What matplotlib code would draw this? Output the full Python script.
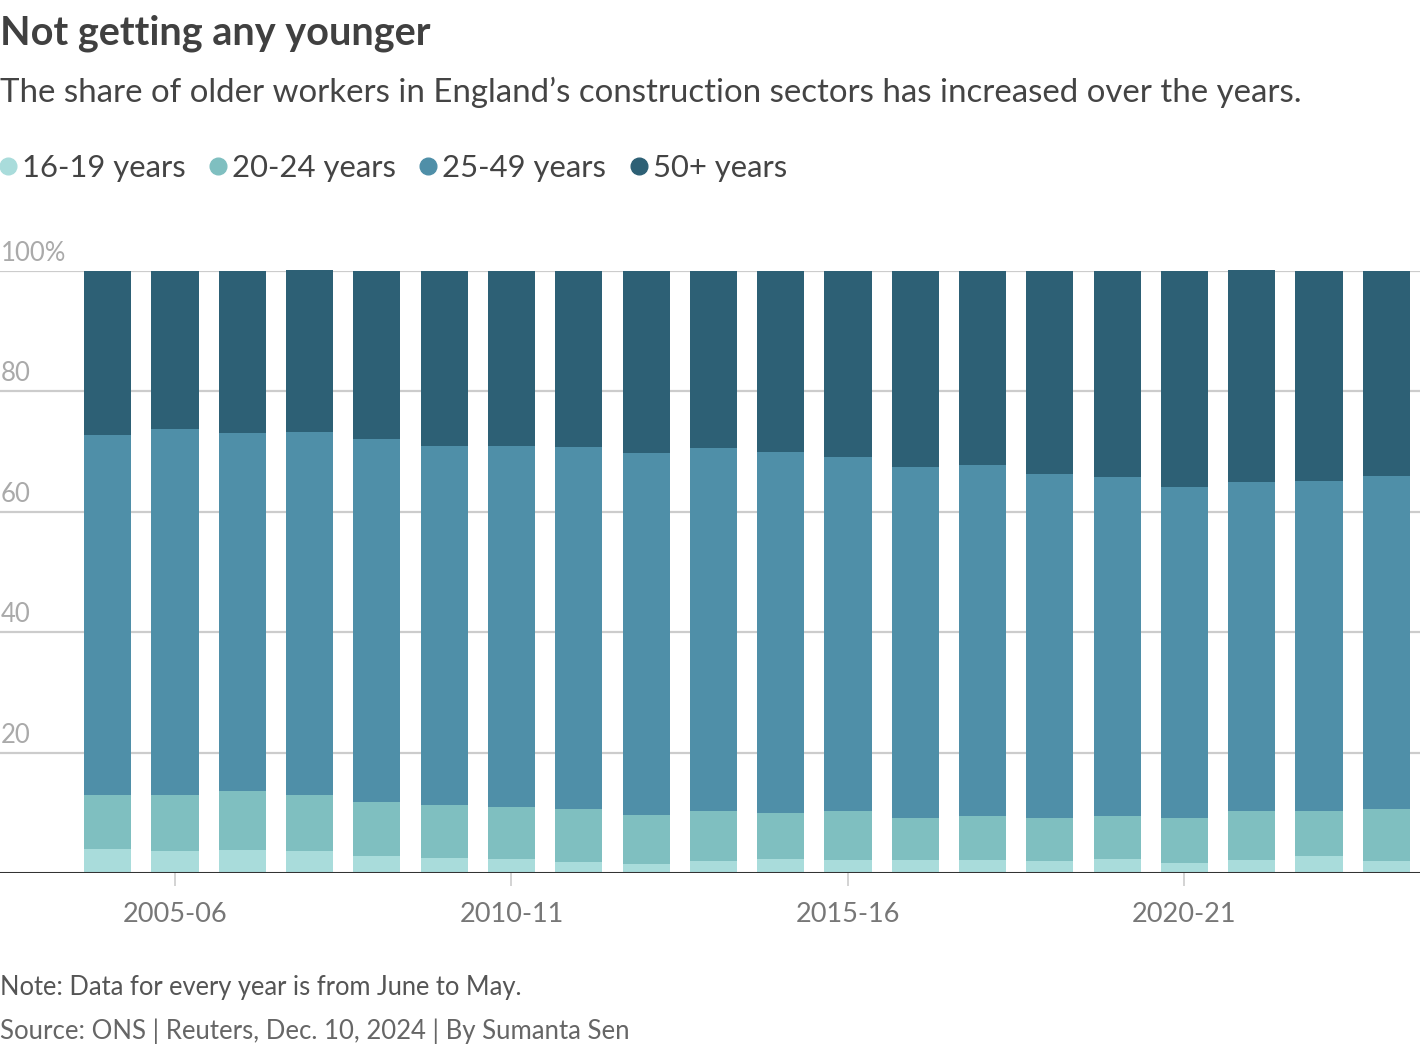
import matplotlib

matplotlib.use("Agg")
import matplotlib.pyplot as plt
from matplotlib.lines import Line2D
import numpy as np

plt.rcParams["font.family"] = ["Lato", "DejaVu Sans"]

# Years run June to May, 2004-05 .. 2023-24
years = [f"{y}-{str(y + 1)[-2:]}" for y in range(2004, 2024)]
age_16_19 = [4.0, 3.7, 3.9, 3.7, 2.9, 2.5, 2.4, 1.9, 1.5, 2.0,
             2.4, 2.2, 2.2, 2.2, 2.0, 2.4, 1.7, 2.2, 2.9, 2.0]
age_20_24 = [9.0, 9.3, 9.8, 9.3, 8.9, 8.8, 8.6, 8.8, 8.2, 8.3,
             7.6, 8.1, 7.0, 7.3, 7.2, 7.1, 7.5, 8.1, 7.4, 8.7]
age_25_49 = [59.8, 60.8, 59.4, 60.3, 60.3, 59.6, 59.9, 60.1, 60.1, 60.3,
             59.9, 58.8, 58.2, 58.3, 57.1, 56.3, 54.9, 54.7, 54.8, 55.2]
age_50_plus = [27.2, 26.2, 26.9, 26.9, 27.9, 29.1, 29.1, 29.2, 30.2, 29.4,
               30.1, 30.9, 32.6, 32.2, 33.7, 34.2, 35.9, 35.2, 34.9, 34.1]
series_names = ["16-19 years", "20-24 years", "25-49 years", "50+ years"]
tick_labels = ["2005-06", "2010-11", "2015-16", "2020-21"]
y_ticks = [20, 40, 60, 80, 100]

colors = ["#a9dcdb", "#7fbfc0", "#4f8fa8", "#2d6075"]

W, H = 1420, 1046
fig = plt.figure(figsize=(W / 100, H / 100), dpi=100)
ax = fig.add_axes([0, 1 - 873 / H, 1, (873 - 271) / H])

x = np.arange(len(years))
bottom = np.zeros(len(years))
for vals, c in zip([age_16_19, age_20_24, age_25_49, age_50_plus], colors):
    ax.bar(x, vals, bottom=bottom, width=0.7, color=c, zorder=3, clip_on=False)
    bottom += np.array(vals)

ax.set_xlim(-1.6, 19.5)
ax.set_ylim(0, 100)

for v in y_ticks:
    ax.axhline(v, color="#cccccc", lw=1.6, zorder=1)
    lab = "100%" if v == 100 else str(v)
    ax.annotate(lab, xy=(0, v), xycoords=("axes fraction", "data"),
                xytext=(1, 5), textcoords="offset pixels", ha="left", va="bottom",
                fontsize=18.5, color="#aaaaaa")
ax.axhline(0, color="#333333", lw=2.2, zorder=4)

for s in ax.spines.values():
    s.set_visible(False)
ax.set_yticks([])
tick_pos = [years.index(t) for t in tick_labels]
ax.set_xticks(tick_pos)
ax.set_xticklabels(tick_labels, fontsize=19.5, color="#777777")
ax.tick_params(axis="x", length=9, width=1.2, color="#cccccc", pad=12)

# header
fig.text(0.0, 1 - 15 / H, "Not getting any younger", fontsize=28.5, fontweight="bold",
         color="#404040", ha="left", va="top")
fig.text(0.0, 1 - 92 / H, "The share of older workers in England\u2019s construction sectors has increased over the years.",
         fontsize=23.8, color="#444444", ha="left", va="center")

handles = [Line2D([], [], marker="o", ls="", ms=12, mfc=c, mec=c) for c in colors]
fig.legend(handles, series_names, loc="center left", bbox_to_anchor=(0.0, 1 - 168 / H),
           ncol=4, frameon=False, handlelength=0.5, handletextpad=0.2,
           columnspacing=0.8, borderpad=0, borderaxespad=0,
           prop={"size": 22.3}, labelcolor="#444444")

fig.text(0.0, 1 - 988 / H, "Note: Data for every year is from June to May.",
         fontsize=18.4, color="#555555", ha="left", va="center")
fig.text(0.0, 1 - 1031 / H, "Source: ONS | Reuters, Dec. 10, 2024 | By Sumanta Sen",
         fontsize=18.5, color="#666666", ha="left", va="center")

fig.savefig("out.png", dpi=100)
